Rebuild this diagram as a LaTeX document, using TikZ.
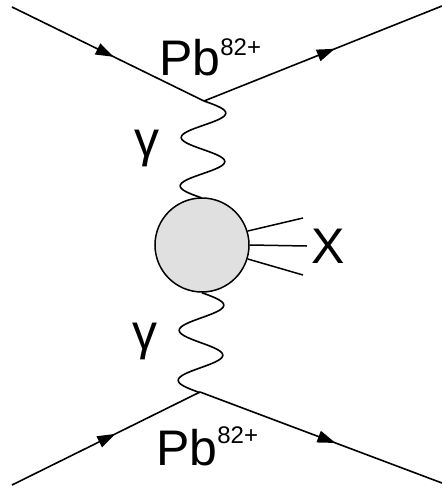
\documentclass[tikz,border=0pt]{standalone}
\usepackage{fontspec}
\setmainfont{Liberation Sans}
\usetikzlibrary{decorations.markings,arrows.meta}
\newcommand\bigfont{\fontsize{50}{60}\selectfont}
\newcommand\supfont{\fontsize{24}{28}\selectfont}
\begin{document}
\begin{tikzpicture}[x=1pt,y=-1pt,
  fermion/.style={line width=1.6pt, postaction={decorate},
    decoration={markings, mark=at position #1 with {\arrow{Triangle[length=18pt,width=12pt]}}}},
  photon/.style={line width=1.6pt},
  lbl/.style={anchor=base west, inner sep=0pt, font=\bigfont},
  leg/.style={line width=1.5pt}
]
\useasboundingbox (0,0) rectangle (442,491);
% vertices and ends
\coordinate (vt) at (204,101);
\coordinate (vb) at (200,392);
\coordinate (tl) at (12,7);
\coordinate (tr) at (442,6);
\coordinate (bl) at (12,485);
\coordinate (br) at (442,483);
% blob
\node[circle, draw, line width=1.5pt, fill={rgb,255:red,224;green,224;blue,224},
  minimum size=94pt, inner sep=0pt] (blob) at (202,245) {};
% fermion lines
\draw[fermion=0.53] (tl) -- (vt);
\draw[fermion=0.55] (vt) -- (tr);
\draw[fermion=0.55] (bl) -- (vb);
\draw[fermion=0.56] (vb) -- (br);
% photons (two full periods between vertex and blob)
\draw[photon, shift={(vt)}] plot[domain=0:1, samples=120, smooth]
  ({22*sin(720*\x)-2*\x}, {97*\x});
\draw[photon, shift={(blob.south)}] plot[domain=0:1, samples=120, smooth]
  ({22*sin(720*\x)-2*\x}, {100*\x});
% outgoing X lines
\coordinate (x1) at (303,218);
\coordinate (x2) at (307,246);
\coordinate (x3) at (303,275);
\draw[leg] (blob.17) -- (x1);
\draw[leg] (blob.east) -- (x2);
\draw[leg] (blob.-17) -- (x3);
% labels
\node[lbl] (pbt) at (159,75) {Pb{\supfont\raisebox{20pt}{82+}}};
\node[lbl] (pbb) at (156,465) {Pb{\supfont\raisebox{22pt}{82+}}};
\node[lbl] (gt) at (134,156) {γ};
\node[lbl] (gb) at (132,349) {γ};
\node[lbl] (xl) at (311,263) {X};
\end{tikzpicture}
\end{document}
